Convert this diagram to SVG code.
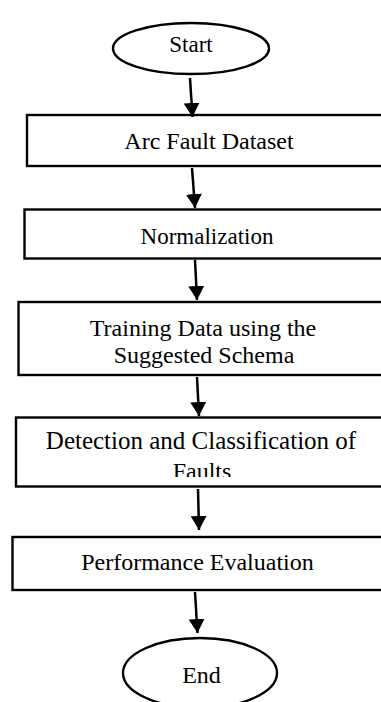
<svg xmlns="http://www.w3.org/2000/svg" width="381" height="702" viewBox="0 0 381 702">
<style>
.shape{fill:#fff;stroke:#000;stroke-width:2.4}
.lbl{font-family:"Liberation Serif","Times New Roman",serif;font-size:24px;fill:#000;text-anchor:middle}
.conn{stroke:#000;stroke-width:2.5;fill:none}
</style>
<defs>
<marker id="ah" viewBox="0 0 14 16" refX="14" refY="8" markerWidth="14" markerHeight="16" markerUnits="userSpaceOnUse" orient="auto">
<path d="M0,0 L14,8 L0,16 Z" fill="#000"/>
</marker>
<clipPath id="clipFaults"><rect x="0" y="455" width="381" height="22"/></clipPath>
</defs>
<rect width="381" height="702" fill="#fff"/>
<g id="start">
<ellipse class="shape" cx="191" cy="48.5" rx="78" ry="25.5"/>
<text class="lbl" x="191" y="52" style="font-size:23px">Start</text>
</g>
<g id="dataset">
<rect class="shape" x="27" y="115" width="380" height="51"/>
<text class="lbl" x="209" y="149">Arc Fault Dataset</text>
</g>
<g id="normalization">
<rect class="shape" x="24.5" y="209.5" width="380" height="49"/>
<text class="lbl" x="207" y="244" style="font-size:23px">Normalization</text>
</g>
<g id="training">
<rect class="shape" x="18.5" y="302" width="380" height="73"/>
<text class="lbl" x="203" y="336">Training Data using the</text>
<text class="lbl" x="204" y="363">Suggested Schema</text>
</g>
<g id="detection">
<rect class="shape" x="16" y="417.5" width="380" height="69"/>
<text class="lbl" x="201" y="449" style="font-size:25px">Detection and Classification of</text>
<text class="lbl" x="202" y="479" clip-path="url(#clipFaults)">Faults</text>
</g>
<g id="evaluation">
<rect class="shape" x="12.5" y="537" width="380" height="53"/>
<text class="lbl" x="197.5" y="570">Performance Evaluation</text>
</g>
<g id="end">
<ellipse class="shape" cx="200" cy="673" rx="77" ry="35"/>
<text class="lbl" x="201.5" y="683">End</text>
</g>
<g id="connectors">
<line class="conn" x1="190" y1="78" x2="192.5" y2="117" marker-end="url(#ah)"/>
<line class="conn" x1="192" y1="168" x2="195" y2="208" marker-end="url(#ah)"/>
<line class="conn" x1="195" y1="260" x2="197" y2="300" marker-end="url(#ah)"/>
<line class="conn" x1="197" y1="377" x2="199" y2="416" marker-end="url(#ah)"/>
<line class="conn" x1="198" y1="489" x2="199" y2="530" marker-end="url(#ah)"/>
<line class="conn" x1="195" y1="592" x2="197.5" y2="633" marker-end="url(#ah)"/>
</g>
</svg>
